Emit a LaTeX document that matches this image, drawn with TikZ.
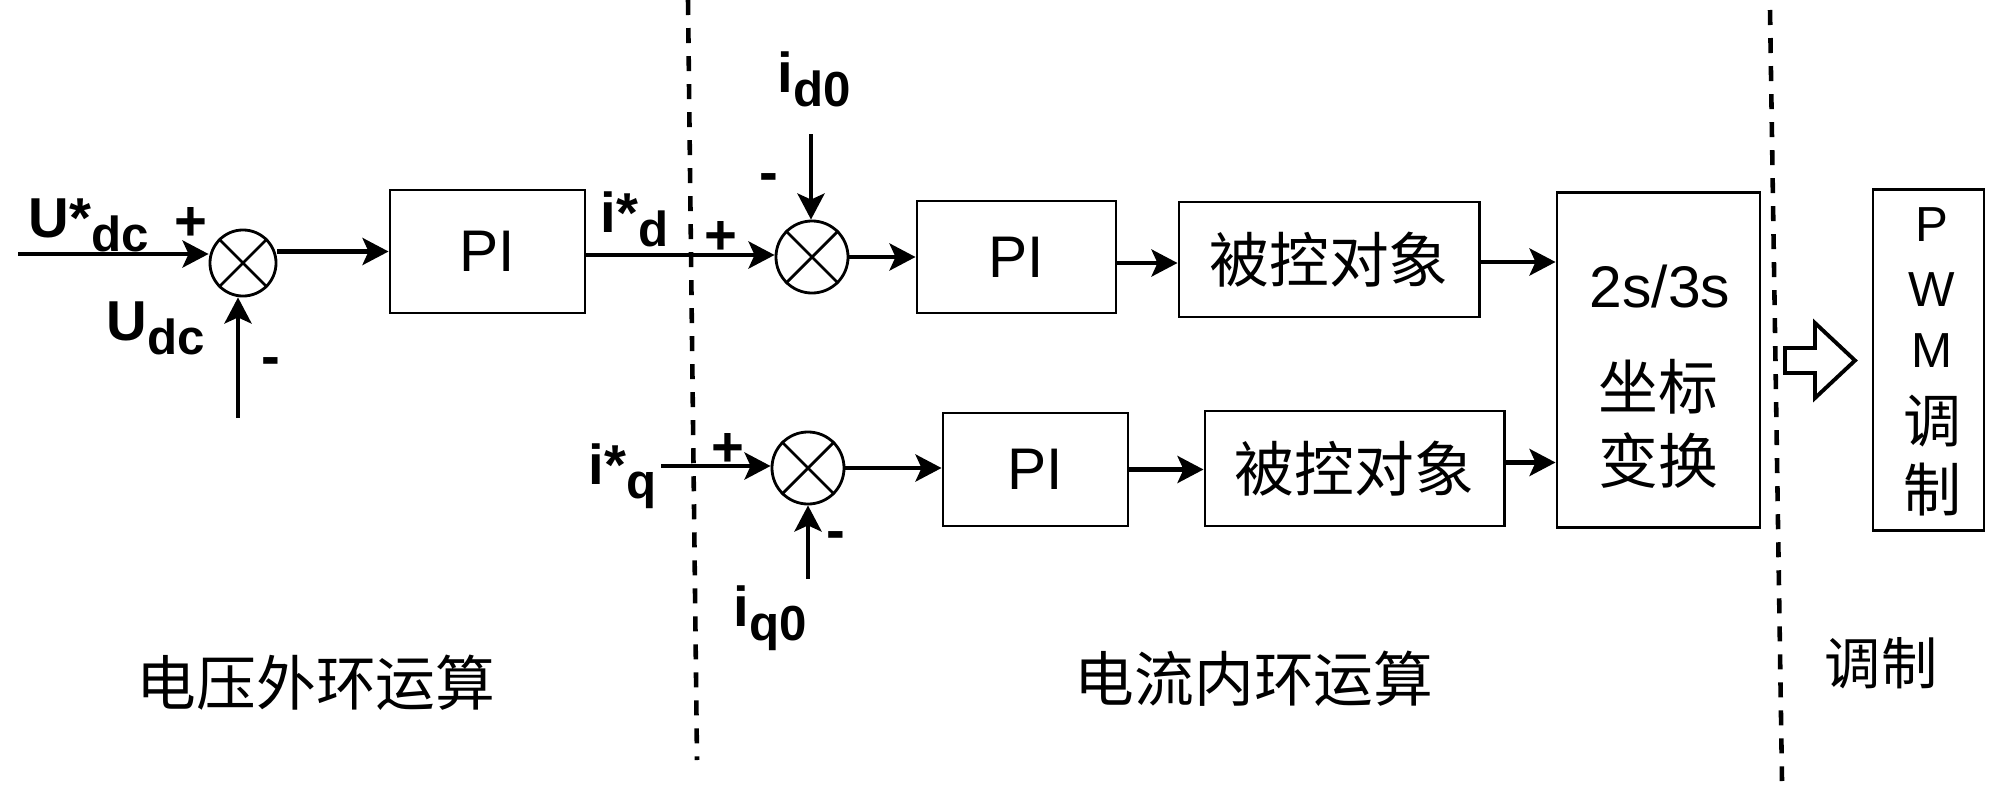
\documentclass[tikz,border=0pt]{standalone}
\usepackage{fontspec}
\setmainfont{Liberation Sans}
\newfontfamily\cjk{Noto Sans CJK SC}
\usetikzlibrary{arrows.meta}
\newcommand\mysub[1]{\raisebox{-0.14cm}{\fontsize{14}{14}\selectfont #1}}
\begin{document}
\begin{tikzpicture}[x=0.01cm,y=-0.01cm,
  blk/.style={draw, line width=0.8pt, inner sep=0pt},
  sumj/.style={draw, circle, line width=0.8pt, minimum size=0.72cm, inner sep=0pt},
  arr/.style={line width=1.25pt, -{Stealth[length=0.26cm,width=0.27cm,inset=0.06cm]}},
  sep/.style={line width=1.3pt, dash pattern=on 0.15cm off 0.13cm},
  lbl/.style={font=\bfseries\fontsize{16}{19}\selectfont, inner sep=0pt},
  sgn/.style={font=\bfseries\fontsize{16}{19}\selectfont, inner sep=0pt},
  txt/.style={font=\fontsize{16.7}{20}\selectfont, inner sep=0pt},
  cjkt/.style={font=\cjk\fontsize{17}{21}\selectfont, inner sep=0pt, align=center}
]
\useasboundingbox (0,0) rectangle (2000,803);

% blocks
\node[sumj, minimum size=0.66cm] (s1) at (243,263) {};
\node[blk, txt, minimum width=1.95cm, minimum height=1.23cm] (pi1) at (487.5,251.5) {PI};
\node[sumj] (s2) at (812,257) {};
\node[blk, txt, minimum width=1.99cm, minimum height=1.12cm] (pi2) at (1016.5,257) {PI};
\node[blk, cjkt, minimum width=3.00cm, minimum height=1.15cm] (p1) at (1329,259.5) {被控对象};
\node[blk, minimum width=2.03cm, minimum height=3.34cm] (tr) at (1658.5,360) {};
\node[blk, minimum width=1.11cm, minimum height=3.40cm] (pwm) at (1928.5,360) {};
\node[sumj] (s3) at (808,468) {};
\node[blk, txt, minimum width=1.85cm, minimum height=1.13cm] (pi3) at (1035.5,469.5) {PI};
\node[blk, cjkt, minimum width=2.99cm, minimum height=1.15cm] (p2) at (1354.5,468.5) {被控对象};

% crosses in summing junctions
\foreach \s in {s1,s2,s3}{
  \draw[line width=0.8pt] (\s.north east) -- (\s.south west) (\s.north west) -- (\s.south east);
}

% texts inside boxes
\node[txt, anchor=base] (t23) at (1660,307) {2s/3s};
\node[cjkt] (tzb) at (1658,424) {坐标\\变换};
\node[inner sep=0pt, align=center, anchor=north, font=\fontsize{14}{0.63cm}\selectfont] (tpwm) at (1932,207)
  {P\\[0.02cm]W\\[-0.02cm]M\\[0.12cm]{\cjk\fontsize{16.5}{0.63cm}\selectfont 调}\\[0.06cm]{\cjk\fontsize{16.5}{0.63cm}\selectfont 制}};

% free ends
\coordinate (in1) at (18,254);
\coordinate (udc) at (238,418);
\coordinate (id0) at (811,134);
\coordinate (iq) at (661,466);
\coordinate (iq0) at (808,579);

% connectors
\draw[arr] (in1) -- (in1 -| s1.west);
\draw[arr] (udc) -- (udc |- s1.south);
\draw[arr] (s1.east |- pi1.west) -- (pi1.west);
\draw[arr] (pi1.east |- 0,255) -- (s2.west |- 0,255);
\draw[arr] (id0) -- (id0 |- s2.north);
\draw[arr] (s2.east) -- (s2.east -| pi2.west);
\draw[arr] ([yshift=-0.06cm]pi2.east) -- ([yshift=-0.06cm]pi2.east -| p1.west);
\draw[arr] ([yshift=-0.025cm]p1.east) -- ([yshift=-0.025cm]p1.east -| tr.west);
\draw[arr] (iq) -- (iq -| s3.west);
\draw[arr] (iq0) -- (iq0 |- s3.south);
\draw[arr] (s3.east) -- (s3.east -| pi3.west);
\draw[arr] (pi3.east) -- (pi3.east -| p2.west);
\draw[arr] ([yshift=0.06cm]p2.east) -- ([yshift=0.06cm]p2.east -| tr.west);

% hollow arrow
\draw[line width=1.1pt, line join=miter] (1785,348) -- (1815,348) -- (1815,323) -- (1855,360.5)
  -- (1815,398) -- (1815,373) -- (1785,373) -- cycle;

% separators
\coordinate (d1a) at (688,0);
\coordinate (d1b) at (697,760);
\coordinate (d2a) at (1770,10);
\coordinate (d2b) at (1782,781);
\draw[sep] (d1a) -- (d1b);
\draw[sep] (d2a) -- (d2b);

% signal labels
\node[lbl, anchor=base west] (lU) at (28,237) {U*\mysub{dc}};
\node[sgn] (pl1) at (191,224) {+};
\node[lbl, anchor=base west] (lUdc) at (106,340) {U\mysub{dc}};
\node[sgn] (mi1) at (271,367) {-};
\node[lbl, anchor=base west] (lid) at (600,232) {i*\mysub{d}};
\node[sgn] (pl2) at (721,238) {+};
\node[lbl, anchor=base west] (lid0) at (777,92) {i\mysub{d0}};
\node[sgn] (mi2) at (769,183) {-};
\node[lbl, anchor=base west] (liq) at (588,484) {i*\mysub{q}};
\node[sgn] (pl3) at (728,450) {+};
\node[lbl, anchor=base west] (liq0) at (733,626) {i\mysub{q0}};
\node[sgn] (mi3) at (836,541) {-};

% section labels
\node[cjkt] (b1) at (316,683) {电压外环运算};
\node[cjkt] (b2) at (1254,679) {电流内环运算};
\node[cjkt, font=\cjk\fontsize{16}{19}\selectfont] (b3) at (1881,663) {调制};
\end{tikzpicture}
\end{document}
